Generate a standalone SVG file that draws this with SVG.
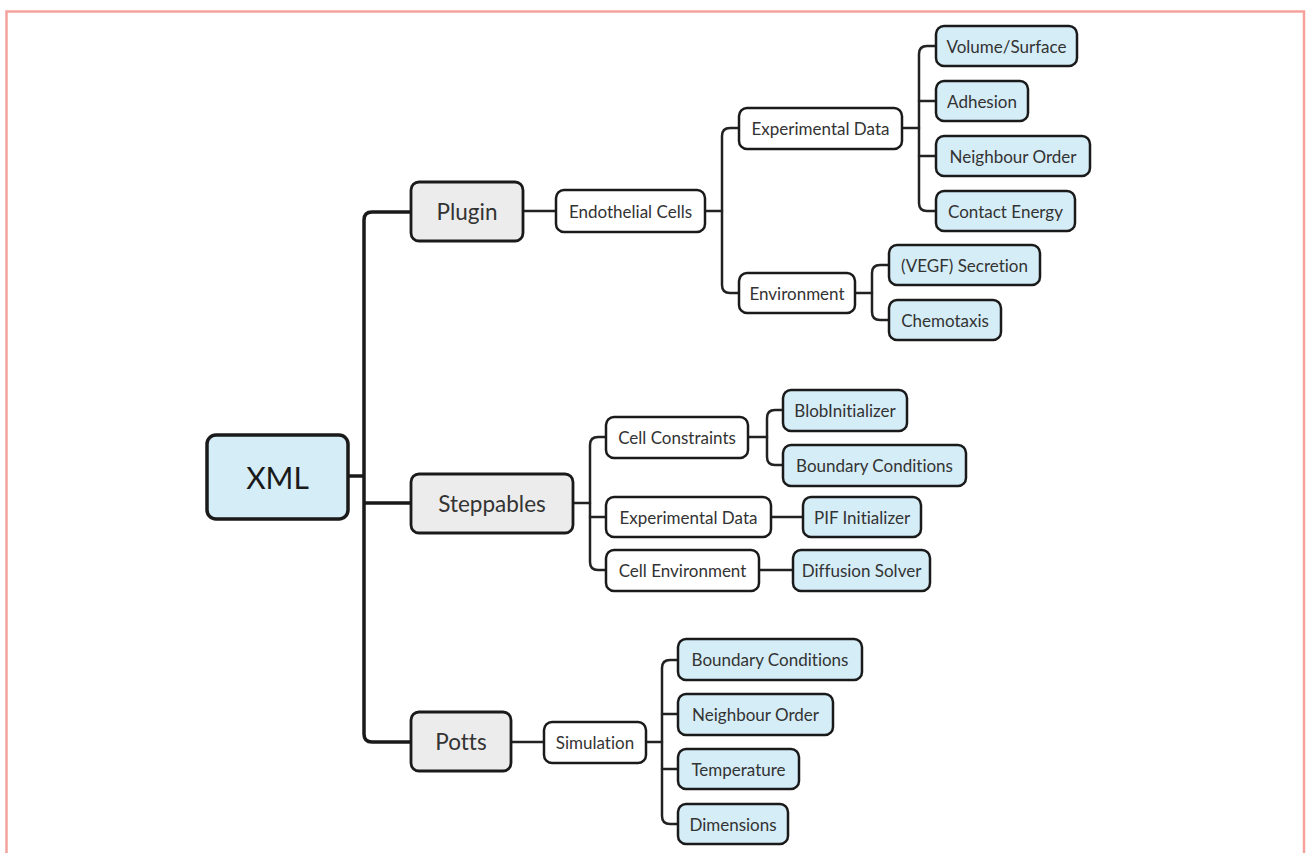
<svg xmlns="http://www.w3.org/2000/svg" width="1306" height="853" viewBox="0 0 1306 853">
<style>
.frame{fill:none;stroke:#f4a29b;stroke-width:2.5}
.c{fill:none;stroke:#222;stroke-width:2.5;stroke-linejoin:round;stroke-linecap:round}
.trunk{fill:none;stroke:#1a1a1a;stroke-width:3.5;stroke-linejoin:round}
.root{fill:#d5edf7;stroke:#1a1a1a;stroke-width:3.5}
.mid{fill:#ececec;stroke:#1a1a1a;stroke-width:2.8}
.sub{fill:#ffffff;stroke:#1a1a1a;stroke-width:2.5}
.leaf{fill:#d5edf7;stroke:#1a1a1a;stroke-width:2.5}
text{font-family:Lato,"Open Sans","Liberation Sans",sans-serif;fill:#333;text-anchor:middle;dominant-baseline:central;font-variant-ligatures:none;font-feature-settings:"liga" 0}
.t1{font-size:30px;fill:#1a1a1a}
.t2{font-size:22.5px}
.t3{font-size:17px}
</style>
<path class="frame" d="M6.5,853 V11.5 H1304 V853"/>
<g id="connectors">
<path class="trunk" d="M348,476 H363"/>
<path class="trunk" d="M411,212 H372 Q364,212 364,220 V734 Q364,742 372,742 H411"/>
<path class="trunk" d="M364,503 Q364,503 372,503 H411"/>
<path class="c" d="M523,211 H556"/>
<path class="c" d="M705,211 H722"/>
<path class="c" d="M739,128 H730 Q722,128 722,136 V285 Q722,293 730,293 H739"/>
<path class="c" d="M902,128 H919"/>
<path class="c" d="M936,46 H927 Q919,46 919,54 V203 Q919,211 927,211 H936"/>
<path class="c" d="M919,101 H936 M919,156 H936"/>
<path class="c" d="M855,293 H872"/>
<path class="c" d="M889,265 H880 Q872,265 872,273 V312 Q872,320 880,320 H889"/>
<path class="c" d="M573,503 H590"/>
<path class="c" d="M606,437 H598 Q590,437 590,445 V562 Q590,570 598,570 H606"/>
<path class="c" d="M590,517 H606"/>
<path class="c" d="M748,437 H767"/>
<path class="c" d="M783,410 H775 Q767,410 767,418 V457 Q767,465 775,465 H783"/>
<path class="c" d="M771,517 H803"/>
<path class="c" d="M759,570 H793"/>
<path class="c" d="M511,742 H544"/>
<path class="c" d="M646,742 H662"/>
<path class="c" d="M678,660 H670 Q662,660 662,668 V816 Q662,824 670,824 H678"/>
<path class="c" d="M662,714 H678 M662,769 H678"/>
</g>
<g id="n-xml"><rect class="root" x="207" y="435" width="141" height="84" rx="9"/><text class="t1" x="277.5" y="477">XML</text></g>
<g id="n-plugin"><rect class="mid" x="411" y="182" width="112" height="59" rx="8"/><text class="t2" x="467" y="211.5">Plugin</text></g>
<g id="n-steppables"><rect class="mid" x="411" y="474" width="162" height="59" rx="8"/><text class="t2" x="492" y="503.5">Steppables</text></g>
<g id="n-potts"><rect class="mid" x="411" y="712" width="100" height="59" rx="8"/><text class="t2" x="461" y="741.5">Potts</text></g>
<g id="n-endothelial"><rect class="sub" x="556" y="190" width="149" height="42" rx="8"/><text class="t3" x="630.5" y="211">Endothelial Cells</text></g>
<g id="n-expdata1"><rect class="sub" x="739" y="108" width="163" height="41" rx="8"/><text class="t3" x="820.5" y="128.5">Experimental Data</text></g>
<g id="n-environment"><rect class="sub" x="739" y="273" width="116" height="40" rx="8"/><text class="t3" x="797" y="293">Environment</text></g>
<g id="n-volume"><rect class="leaf" x="936" y="26" width="141" height="40" rx="8"/><text class="t3" x="1006.5" y="46">Volume/Surface</text></g>
<g id="n-adhesion"><rect class="leaf" x="936" y="81" width="92" height="40" rx="8"/><text class="t3" x="982" y="101">Adhesion</text></g>
<g id="n-neighbour1"><rect class="leaf" x="936" y="136" width="154" height="40" rx="8"/><text class="t3" x="1013" y="156">Neighbour Order</text></g>
<g id="n-contact"><rect class="leaf" x="936" y="191" width="139" height="40" rx="8"/><text class="t3" x="1005.5" y="211">Contact Energy</text></g>
<g id="n-vegf"><rect class="leaf" x="889" y="245" width="151" height="40" rx="8"/><text class="t3" x="964.5" y="265">(VEGF) Secretion</text></g>
<g id="n-chemotaxis"><rect class="leaf" x="889" y="300" width="112" height="40" rx="8"/><text class="t3" x="945" y="320">Chemotaxis</text></g>
<g id="n-cellconstraints"><rect class="sub" x="606" y="417" width="142" height="41" rx="8"/><text class="t3" x="677" y="437.5">Cell Constraints</text></g>
<g id="n-expdata2"><rect class="sub" x="606" y="497" width="165" height="40" rx="8"/><text class="t3" x="688.5" y="517">Experimental Data</text></g>
<g id="n-cellenv"><rect class="sub" x="606" y="550" width="153" height="41" rx="8"/><text class="t3" x="682.5" y="570.5">Cell Environment</text></g>
<g id="n-blob"><rect class="leaf" x="783" y="390" width="124" height="41" rx="8"/><text class="t3" x="845" y="410.5">BlobInitializer</text></g>
<g id="n-boundary1"><rect class="leaf" x="783" y="445" width="183" height="41" rx="8"/><text class="t3" x="874.5" y="465.5">Boundary Conditions</text></g>
<g id="n-pif"><rect class="leaf" x="803" y="497" width="118" height="40" rx="8"/><text class="t3" x="862" y="517">PIF Initializer</text></g>
<g id="n-diffusion"><rect class="leaf" x="793" y="550" width="137" height="41" rx="8"/><text class="t3" x="861.5" y="570.5">Diffusion Solver</text></g>
<g id="n-simulation"><rect class="sub" x="544" y="722" width="102" height="41" rx="8"/><text class="t3" x="595" y="742.5">Simulation</text></g>
<g id="n-boundary2"><rect class="leaf" x="678" y="639" width="184" height="41" rx="8"/><text class="t3" x="770" y="659.5">Boundary Conditions</text></g>
<g id="n-neighbour2"><rect class="leaf" x="678" y="694" width="155" height="41" rx="8"/><text class="t3" x="755.5" y="714.5">Neighbour Order</text></g>
<g id="n-temperature"><rect class="leaf" x="678" y="749" width="121" height="40" rx="8"/><text class="t3" x="738.5" y="769">Temperature</text></g>
<g id="n-dimensions"><rect class="leaf" x="678" y="804" width="110" height="40" rx="8"/><text class="t3" x="733" y="824">Dimensions</text></g>
</svg>
